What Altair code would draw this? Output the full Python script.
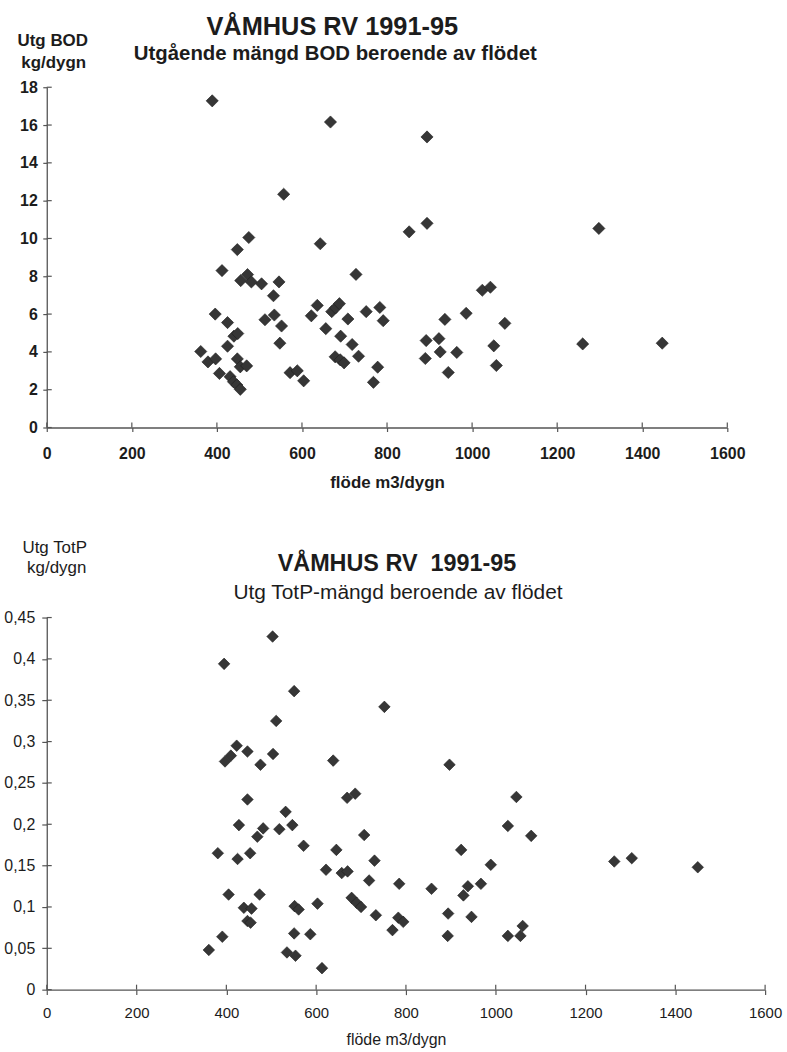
import altair as alt
import pandas as pd

FONT = "Liberation Sans"
INK = "#1c1c1c"
AXIS = "#555555"
MARK_FILL = "#363636"
MARK_EDGE = "#1f1f1f"

# --- Utgående BOD (kg/dygn) mot flöde (m3/dygn) ---
bod_flow = [389, 667, 894, 557, 894, 852, 475, 448, 643, 412,
            727, 456, 472, 481, 505, 546, 533, 396, 425, 440,
            449, 425, 362, 379, 397, 406, 448, 455, 470, 431,
            439, 447, 455, 513, 535, 552, 548, 572, 589, 604,
            622, 636, 656, 670, 679, 688, 708, 691, 678, 690,
            699, 718, 733, 751, 783, 791, 778, 768, 892, 890,
            1024, 1043, 936, 986, 1077, 922, 925, 964, 944, 1051,
            1057, 1260, 1298, 1447]
bod_load = [17.28, 16.16, 15.37, 12.34, 10.8, 10.35, 10.05, 9.41, 9.72, 8.3,
            8.1, 7.77, 8.09, 7.7, 7.6, 7.7, 6.97, 6.0, 5.55, 4.83,
            4.97, 4.3, 4.02, 3.47, 3.63, 2.86, 3.63, 3.21, 3.26, 2.69,
            2.42, 2.25, 2.02, 5.7, 5.95, 5.37, 4.46, 2.9, 3.0, 2.47,
            5.91, 6.46, 5.23, 6.13, 6.33, 6.55, 5.74, 4.83, 3.74, 3.58,
            3.42, 4.39, 3.77, 6.13, 6.35, 5.65, 3.19, 2.39, 4.6, 3.65,
            7.26, 7.42, 5.72, 6.04, 5.51, 4.7, 4.0, 3.97, 2.91, 4.32,
            3.28, 4.42, 10.53, 4.46]

# --- Utgående TotP (kg/dygn) mot flöde (m3/dygn) ---
totp_flow = [395, 551, 752, 511, 423, 397, 410, 447, 476, 504,
             638, 447, 532, 428, 547, 518, 469, 482, 669, 687,
             707, 572, 381, 425, 453, 645, 730, 622, 657, 670,
             718, 785, 405, 474, 439, 456, 447, 454, 552, 561,
             603, 679, 690, 700, 733, 783, 794, 770, 551, 587,
             391, 361, 535, 554, 613, 503, 897, 1046, 1027, 1079,
             923, 989, 857, 938, 928, 967, 894, 946, 893, 1027,
             1055, 1060, 1264, 1303, 1450]
totp_load = [0.394, 0.361, 0.342, 0.325, 0.295, 0.276, 0.283, 0.288, 0.272, 0.285,
             0.277, 0.230, 0.215, 0.199, 0.199, 0.194, 0.185, 0.195, 0.232, 0.237,
             0.187, 0.174, 0.165, 0.158, 0.165, 0.169, 0.156, 0.145, 0.141, 0.143,
             0.132, 0.128, 0.115, 0.115, 0.099, 0.098, 0.083, 0.081, 0.101, 0.097,
             0.104, 0.111, 0.105, 0.100, 0.090, 0.087, 0.082, 0.072, 0.068, 0.067,
             0.064, 0.048, 0.045, 0.041, 0.026, 0.427, 0.272, 0.233, 0.198, 0.186,
             0.169, 0.151, 0.122, 0.125, 0.114, 0.128, 0.092, 0.088, 0.065, 0.065,
             0.065, 0.077, 0.155, 0.159, 0.148]

flow_ticks = [0, 200, 400, 600, 800, 1000, 1200, 1400, 1600]
bod_ticks = [0, 2, 4, 6, 8, 10, 12, 14, 16, 18]
totp_ticks = [0, 0.05, 0.1, 0.15, 0.2, 0.25, 0.3, 0.35, 0.4, 0.45]

bod_title = "VÅMHUS RV 1991-95"
bod_subtitle = "Utgående mängd BOD beroende av flödet"
bod_unit = ["Utg BOD", "kg/dygn"]
totp_title = "VÅMHUS RV\u00a0 1991-95"
totp_subtitle = "Utg TotP-mängd beroende av flödet"
totp_unit = ["Utg TotP", "kg/dygn"]
flow_label = "flöde m3/dygn"


def label(text, x, y, size, weight):
    return alt.Chart(pd.DataFrame({"t": [text]})).mark_text(
        font=FONT, fontSize=size, fontWeight=weight, color=INK,
        align="center", baseline="middle",
    ).encode(x=alt.value(x), y=alt.value(y), text="t:N")


def panel(flow, load, ymax, yticks, width, height, p):
    df = pd.DataFrame({"flow": flow, "load": load})
    x_enc = alt.X(
        "flow:Q",
        scale=alt.Scale(domain=[0, 1600], nice=False, zero=True),
        axis=alt.Axis(
            values=flow_ticks, format="d", title=flow_label, grid=False,
            domainColor=AXIS, domainWidth=1.3, tickColor=AXIS, tickWidth=1.2,
            tickSize=p["xtick"], labelPadding=p["xpad"],
            labelFont=FONT, labelFontSize=p["xfs"], labelFontWeight=p["w"],
            labelColor=INK, labelFlush=False, labelOverlap=False,
            titleFont=FONT, titleFontSize=p["tfs"], titleFontWeight=p["w"],
            titleColor=INK, titleBaseline="middle", titleAlign="center",
            titleX=p["tx"], titleY=p["ty"],
        ),
    )
    y_axis = dict(
        values=yticks, title=None, grid=False,
        domainColor=AXIS, domainWidth=1.3, tickColor=AXIS, tickWidth=1.2,
        tickSize=p["ytick"], labelPadding=p["ypad"],
        labelFont=FONT, labelFontSize=p["yfs"], labelFontWeight=p["w"],
        labelColor=INK, labelFlush=False, labelOverlap=False,
    )
    if p.get("comma"):
        y_axis["labelExpr"] = "replace(format(datum.value, '.2~f'), '.', ',')"
    y_enc = alt.Y("load:Q", scale=alt.Scale(domain=[0, ymax], nice=False, zero=True),
                  axis=alt.Axis(**y_axis))

    points = alt.Chart(df).mark_point(
        shape="diamond", filled=True, fill=MARK_FILL, stroke=MARK_EDGE,
        strokeWidth=0.6, opacity=1, size=p["size"],
    ).encode(x=x_enc, y=y_enc)

    # tick marks drawn on the inner side of both axes
    xin = alt.Chart(pd.DataFrame({"flow": flow_ticks})).mark_rule(
        color=AXIS, strokeWidth=1.2
    ).encode(x=x_enc, y=alt.value(height), y2=alt.value(height - 5))
    yin = alt.Chart(pd.DataFrame({"load": yticks})).mark_rule(
        color=AXIS, strokeWidth=1.2
    ).encode(y=y_enc, x=alt.value(0), x2=alt.value(5))

    return points, xin, yin


# upper panel: BOD
bp = dict(xtick=4, xpad=14, xfs=16, tfs=17, w="bold", tx=342, ty=55,
          ytick=4, ypad=5.5, yfs=16, size=150)
b_pts, b_xin, b_yin = panel(bod_flow, bod_load, 18, bod_ticks, 684, 342, bp)
top = alt.layer(
    b_xin, b_yin, b_pts,
    label(bod_title, 287, -61, 25.5, "bold"),
    label(bod_subtitle, 290, -33, 20.5, "bold"),
    label(bod_unit[0], 6, -46, 17, "bold"),
    label(bod_unit[1], 7, -24, 17, "bold"),
).properties(width=684, height=342)

# lower panel: TotP
tp = dict(xtick=5, xpad=11, xfs=15, tfs=16, w="normal", tx=351, ty=50,
          ytick=5, ypad=7, yfs=16, size=135, comma=True)
t_pts, t_xin, t_yin = panel(totp_flow, totp_load, 0.45, totp_ticks, 722, 374, tp)
bottom = alt.layer(
    t_xin, t_yin, t_pts,
    label(totp_title, 352, -54, 23.5, "bold"),
    label(totp_subtitle, 353, -25, 21, "normal"),
    label(totp_unit[0], 8, -70, 17, "normal"),
    label(totp_unit[1], 10, -50, 17, "normal"),
).properties(width=722, height=374)

chart = alt.vconcat(top, bottom, spacing=49).properties(
    padding={"left": 3, "top": 12, "right": 5, "bottom": 5},
    background="white",
).configure_view(strokeWidth=0)

chart.save("out.html", embed_options={"renderer": "svg", "actions": False})
